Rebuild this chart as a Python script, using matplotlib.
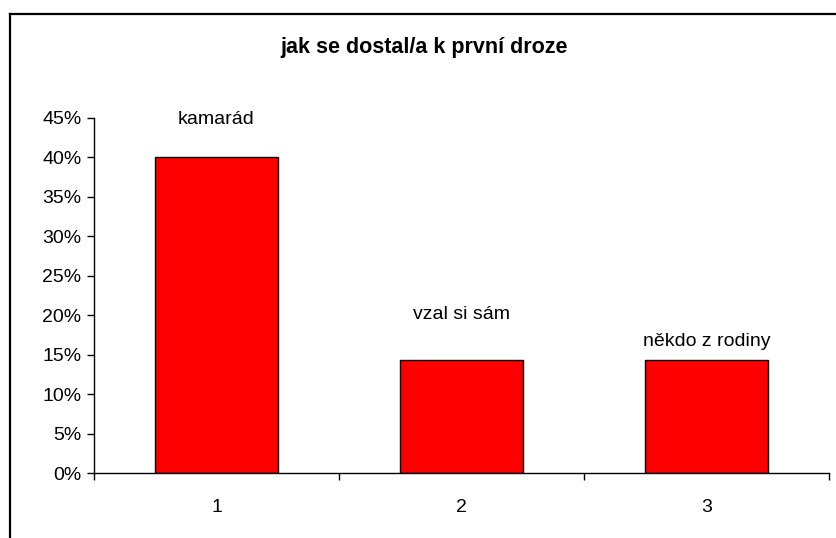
import matplotlib
matplotlib.use("Agg")
import matplotlib.pyplot as plt
from matplotlib.lines import Line2D
from matplotlib.ticker import PercentFormatter

plt.rcParams['font.family'] = ['Liberation Sans', 'DejaVu Sans']

# data
categories = [1, 2, 3]
values = [0.40, 0.143, 0.143]
bar_labels = ['kamarád', 'vzal si sám', 'někdo z rodiny']
title = 'jak se dostal/a k první droze'

# label offset above each bar in points (as in the original)
label_offsets = [27.5, 33, 13.5]

fig = plt.figure(figsize=(8.37, 5.38), dpi=100)
ax = fig.add_axes([0.1123, 0.1208, 0.8781, 0.6599])

ax.bar(categories, values, width=0.5, color='#ff0000', edgecolor='black', linewidth=1.0)

for x, v, lab, off in zip(categories, values, bar_labels, label_offsets):
    ax.annotate(lab, (x, v), xytext=(0, off), textcoords='offset points',
                ha='center', va='center', fontsize=14)

ax.set_xlim(0.5, 3.5)
ax.set_ylim(0, 0.45)
ax.set_yticks([i * 0.05 for i in range(10)])
ax.yaxis.set_major_formatter(PercentFormatter(1.0, decimals=0))
ax.set_xticks(categories)
ax.set_xticks([0.5, 1.5, 2.5, 3.5], minor=True)
ax.tick_params(axis='x', which='major', length=0, pad=19, labelsize=14)
ax.tick_params(axis='x', which='minor', length=5, width=1, direction='out')
ax.tick_params(axis='y', length=5, width=1, direction='out', pad=4, labelsize=14)

for s in ['top', 'right']:
    ax.spines[s].set_visible(False)
for s in ['left', 'bottom']:
    ax.spines[s].set_linewidth(1.0)

fig.text(0.507, 1 - 48 / 538, title, ha='center', va='center',
         fontsize=15.5, fontweight='bold')

# outer chart border (only top and left fall inside the image)
bx = 9.5 / 837
by = 1 - 14 / 538
fig.add_artist(Line2D([bx, bx], [0, by], transform=fig.transFigure, color='black', linewidth=1.6))
fig.add_artist(Line2D([bx, 1], [by, by], transform=fig.transFigure, color='black', linewidth=1.6))

fig.savefig('out.png', dpi=100)
